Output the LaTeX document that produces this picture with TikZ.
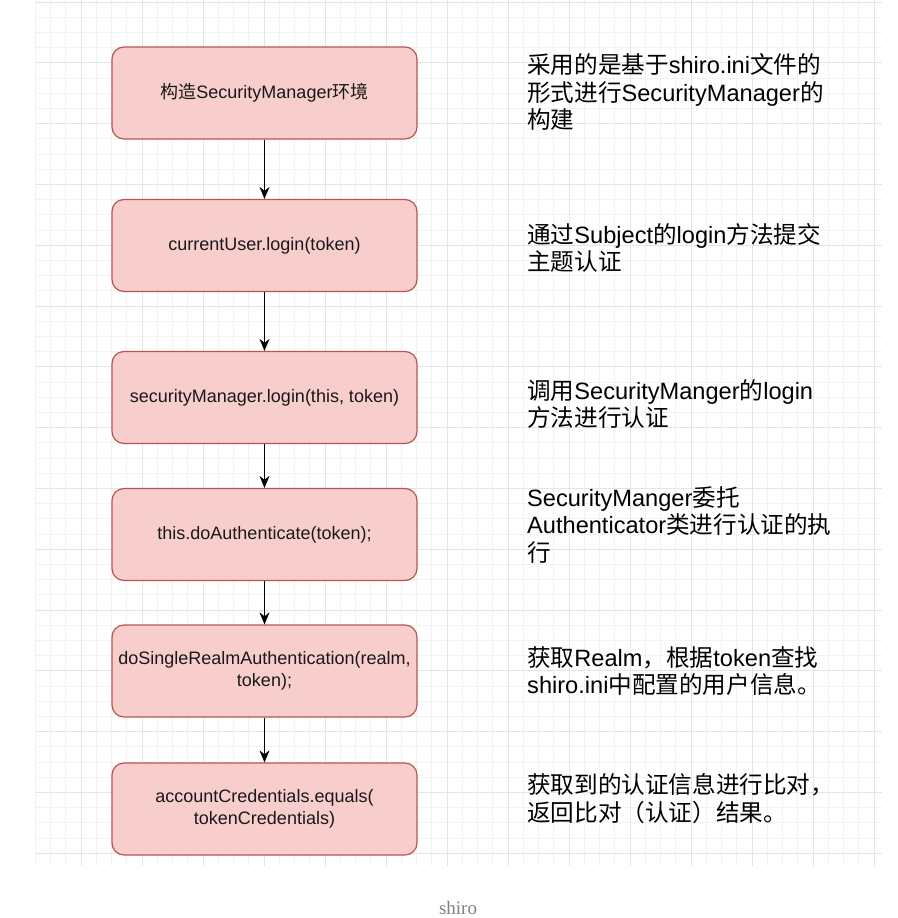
\documentclass[tikz,border=0pt]{standalone}
\usepackage{fontspec}
\setmainfont{Liberation Sans}
\newfontfamily\cjk{Noto Sans CJK SC}
\newfontfamily\capfont{Liberation Serif}
\usetikzlibrary{positioning,arrows.meta}
\definecolor{boxfill}{HTML}{F8CECC}
\definecolor{boxline}{HTML}{B85450}
\begin{document}
\begin{tikzpicture}[x=1pt,y=-1pt,>={Stealth[length=12pt,width=10pt]},
  stepbox/.style={draw=boxline,fill=boxfill,line width=1.2pt,rounded corners=12pt,minimum width=305pt,minimum height=92pt,inner sep=0pt,align=center,font=\fontsize{18}{22}\selectfont,text=black!90},
  note/.style={anchor=west,inner sep=0pt,align=left,font=\fontsize{23.6}{27.5}\selectfont}]
\useasboundingbox (0,0) rectangle (897,918);
% grid
\foreach \i in {0,...,55} \draw[gray!10,line width=0.8pt] (35.25+15.25*\i,0) -- (35.25+15.25*\i,866);
\foreach \i in {0,...,56} \draw[gray!10,line width=0.8pt] (35,2+15.2*\i) -- (882,2+15.2*\i);
\foreach \j in {0,...,13} \draw[gray!20,line width=0.9pt] (81+61*\j,0) -- (81+61*\j,866);
\foreach \j in {0,...,14} \draw[gray!20,line width=0.9pt] (35,2+60.8*\j) -- (882,2+60.8*\j);
% steps
\node[stepbox] (env) at (264.5,93) {{\cjk 构造}SecurityManager{\cjk 环境}};
\node[stepbox] (login) at (264.5,245.5) {currentUser.login(token)};
\node[stepbox] (smlogin) at (264.5,397.5) {securityManager.login(this, token)};
\node[stepbox] (doauth) at (264.5,534.5) {this.doAuthenticate(token);};
\node[stepbox] (realm) at (264.5,671) {doSingleRealmAuthentication(realm,\\token);};
\node[stepbox] (equals) at (264.5,809) {accountCredentials.equals(\\tokenCredentials)};
\draw[->,line width=1.4pt] (env) -- (login);
\draw[->,line width=1.4pt] (login) -- (smlogin);
\draw[->,line width=1.4pt] (smlogin) -- (doauth);
\draw[->,line width=1.4pt] (doauth) -- (realm);
\draw[->,line width=1.4pt] (realm) -- (equals);
% notes
\node[note] (n1) at (527,92) {{\cjk 采用的是基于}shiro.ini{\cjk 文件的}\\{\cjk 形式进行}SecurityManager{\cjk 的}\\{\cjk 构建}};
\node[note] (n2) at (527,248) {{\cjk 通过}Subject{\cjk 的}login{\cjk 方法提交}\\{\cjk 主题认证}};
\node[note] (n3) at (527,404) {{\cjk 调用}SecurityManger{\cjk 的}login\\{\cjk 方法进行认证}};
\node[note] (n4) at (527,525) {SecurityManger{\cjk 委托}\\Authenticator{\cjk 类进行认证的执}\\{\cjk 行}};
\node[note] (n5) at (527,671) {{\cjk 获取}Realm{\cjk ，根据}token{\cjk 查找}\\shiro.ini{\cjk 中配置的用户信息。}};
\node[note] (n6) at (527,798.5) {{\cjk 获取到的认证信息进行比对，}\\{\cjk 返回比对（认证）结果。}};
\node[font=\capfont\fontsize{19}{22}\selectfont,text=gray] (cap) at (458,908) {shiro};
\end{tikzpicture}
\end{document}
